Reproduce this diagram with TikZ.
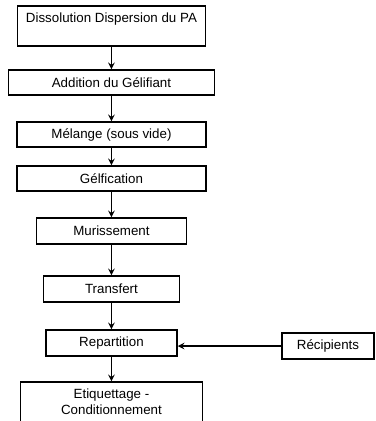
\documentclass[tikz,border=0pt]{standalone}
\usepackage{fontspec}
\setmainfont{Liberation Sans}
\usetikzlibrary{positioning}
\tikzstyle{block} = [draw, rectangle, line width=1.2pt, inner sep=0pt, minimum height=18.75pt, font=\fontsize{10}{12}\selectfont]
\tikzstyle{topblock} = [block, minimum height=30pt, text height=12.5pt, text depth=17.5pt]
\tikzstyle{source} = [block, minimum height=19.5pt]

\begin{document}
\begin{tikzpicture}[auto, node distance=40pt, >=stealth]
		\useasboundingbox (0,0) rectangle (281.25pt,-315.75pt);
		\node [topblock, minimum width=141pt] at (83.6pt,-19.5pt) (dissolution) {Dissolution Dispersion du PA};
		\node [block, below of=dissolution, node distance=42.4pt, minimum width=154.5pt] (addition) {Addition du Gélifiant};
		\node [block, below of=addition, node distance=39pt, minimum width=141.75pt] (melange) {Mélange (sous vide)};
		\node [block, below of=melange, node distance=33pt, minimum width=141.75pt] (gelification) {Gélfication};
		\node [block, below of=gelification, node distance=39.4pt, minimum width=112.5pt, minimum height=19.5pt] (murissement) {Murissement};
		\node [block, below of=murissement, node distance=43.5pt, minimum width=102pt, minimum height=19.5pt] (transfert) {Transfert};
		\node [block, below of=transfert, node distance=40.5pt, minimum width=98.25pt, minimum height=19.5pt] (repartition) {Repartition};
		\node [block, below of=repartition, node distance=44.25pt, minimum width=136.5pt, minimum height=30pt, align=center] (etiquettage) {Etiquettage -\\Conditionnement};
		\node [source, right of=repartition, node distance=162.4pt, yshift=-2.25pt, minimum width=69pt] (recipients) {Récipients};

		\draw [->, line width=1.2pt] (dissolution) -- (addition);
		\draw [->, line width=1.2pt] (addition) -- (melange);
		\draw [->, line width=1.2pt] (melange) -- (gelification);
		\draw [->, line width=1.2pt] (gelification) -- (murissement);
		\draw [->, line width=1.2pt] (murissement) -- (transfert);
		\draw [->, line width=1.2pt] (transfert) -- (repartition);
		\draw [->, line width=1.2pt] (repartition) -- (etiquettage);
		\draw [->, line width=1.2pt] (recipients.west) -- (recipients.west -| repartition.east);
	\end{tikzpicture}
\end{document}
